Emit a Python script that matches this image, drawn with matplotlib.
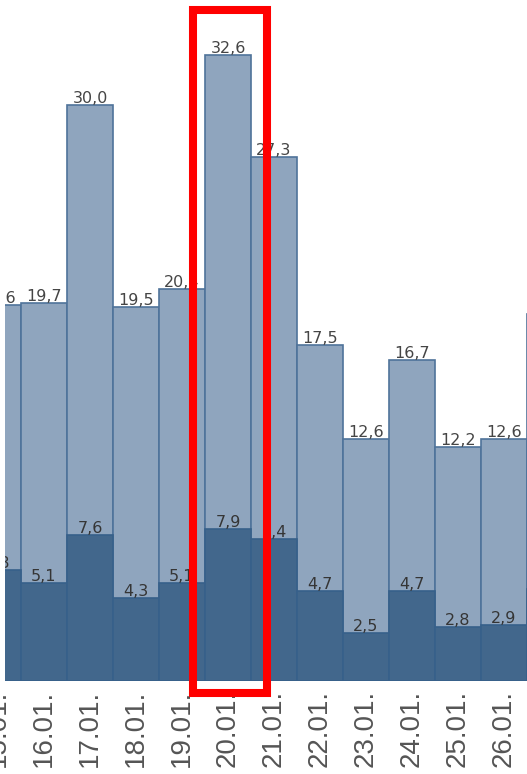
import matplotlib.pyplot as plt
from matplotlib.patches import Rectangle

# daily values: total (light) and subset (dark)
dates = ['15.01.', '16.01.', '17.01.', '18.01.', '19.01.', '20.01.', '21.01.',
         '22.01.', '23.01.', '24.01.', '25.01.', '26.01.', '27.01.']
total = [19.6, 19.7, 30.0, 19.5, 20.4, 32.6, 27.3, 17.5, 12.6, 16.7, 12.2, 12.6, 19.1]
part = [5.8, 5.1, 7.6, 4.3, 5.1, 7.9, 7.4, 4.7, 2.5, 4.7, 2.8, 2.9, 4.8]

W, H, DPI = 527, 774, 100
fig = plt.figure(figsize=(W / DPI, H / DPI), dpi=DPI)

# one slot = 46 px, 15.01. centred at x = -2 px
slot = 46.0
x_org = -2.0
x0_px, x1_px = 5.0, 531.0
ax = fig.add_axes([x0_px / W, 1 - 681 / H, (x1_px - x0_px) / W, 681 / H])
ax.patch.set_alpha(0)

xs = list(range(len(dates)))
ax.bar(xs, total, width=1.0, color='#8fa5be', edgecolor='#4f739a', linewidth=1.2, zorder=2)
ax.bar(xs, part, width=1.0, color='#42678c', edgecolor='#37608a', linewidth=1.2, zorder=3)


def fmt(v):
    return f'{v:.1f}'.replace('.', ',')


for x, t, p in zip(xs[:-1], total[:-1], part[:-1]):
    ax.annotate(fmt(t), (x, t), xytext=(0, 2), textcoords='offset pixels',
                ha='center', va='baseline', fontsize=11.5, color='#454545',
                annotation_clip=False, clip_on=True, zorder=4)
    ax.annotate(fmt(p), (x, p), xytext=(0, 2), textcoords='offset pixels',
                ha='center', va='baseline', fontsize=11.5, color='#353535',
                annotation_clip=False, clip_on=True, zorder=4)

# date labels under each bar
for x, d in zip(xs, dates):
    ax.annotate(d, (x, 0), xycoords=ax.get_xaxis_transform(), xytext=(0, -9),
                textcoords='offset pixels', rotation=90, ha='center', va='top',
                fontsize=20, color='#555555', family='Liberation Sans',
                annotation_clip=False)

ax.set_xticks([])
ax.set_yticks([])
for s in ax.spines.values():
    s.set_visible(False)

ax.set_xlim((x0_px - x_org) / slot, (x1_px - x_org) / slot)
ax.set_ylim(0, 681 / 19.2)

# highlight box around 20.01.
fig.patches.append(Rectangle((193 / W, 1 - 693 / H), 74 / W, 683 / H,
                             transform=fig.transFigure, fill=False,
                             edgecolor='#ff0000', linewidth=5.8, zorder=10))

fig.savefig('out.png', dpi=DPI)
